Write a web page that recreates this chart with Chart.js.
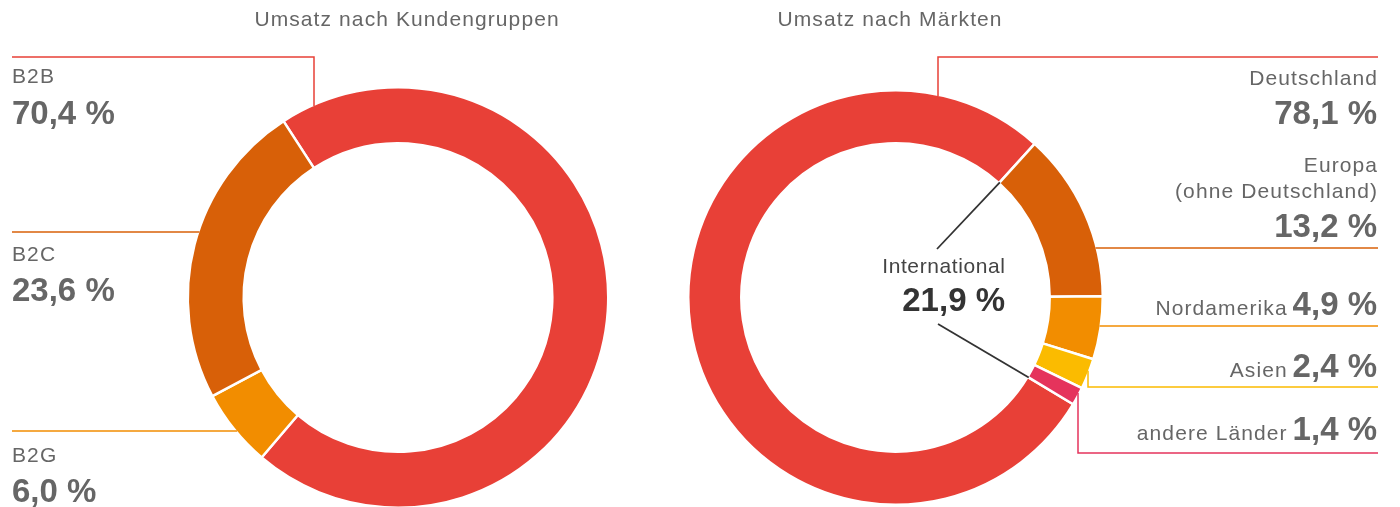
<!DOCTYPE html>
<html><head><meta charset="utf-8">
<script src="https://cdn.jsdelivr.net/npm/chart.js@4.4.1/dist/chart.umd.min.js"></script>
<style>
html,body{margin:0;padding:0;background:#fff;overflow:hidden}
#wrap{position:relative;width:1400px;height:507px}
canvas{position:absolute;left:0;top:0}
</style></head>
<body>
<div id="wrap"><canvas id="c1" width="1400" height="507"></canvas><canvas id="c2" width="1400" height="507"></canvas></div>
<script>
// ---- data ----
const customerTitle = 'Umsatz nach Kundengruppen';
const customerGroups = ['B2B', 'B2C', 'B2G'];
const customerShares = [70.4, 23.6, 6.0];
// clockwise order of the segments in the ring (indices into the arrays above)
const customerRingOrder = [0, 2, 1];

const marketTitle = 'Umsatz nach Märkten';
const markets = ['Deutschland', ['Europa', '(ohne Deutschland)'], 'Nordamerika', 'Asien', 'andere Länder'];
const marketShares = [78.1, 13.2, 4.9, 2.4, 1.4];
const internationalLabel = 'International';

// ---- styles ----
const customerColors = ['#E84037', '#D86008', '#F28D00'];
const marketColors = ['#E84037', '#D86008', '#F28D00', '#FBBB00', '#E5335C'];
const FONT = '"Liberation Sans", Arial, Helvetica, sans-serif';
const REG = '21px ' + FONT;
const BOLD = 'bold 33px ' + FONT;
const GREY = '#666666';
const SPACING = 1.1;
const BORDER = 2.5;

const fmt = v => v.toFixed(1).replace('.', ',') + ' %';

function txt(ctx, s, x, y, font, color, align, spacing) {
  ctx.save();
  ctx.font = font; ctx.fillStyle = color; ctx.textAlign = align; ctx.textBaseline = 'alphabetic';
  ctx.letterSpacing = (spacing || 0) + 'px';
  let dx = 0;
  if (spacing) { if (align === 'right') dx = spacing; else if (align === 'center') dx = spacing / 2; }
  ctx.fillText(s, x + dx, y);
  const w = ctx.measureText(s).width - (spacing || 0);
  ctx.restore();
  return w;
}
function geom(chart) {
  const arc = chart.getDatasetMeta(0).data[0];
  const p = arc.getProps(['x', 'y', 'outerRadius', 'innerRadius'], true);
  return {cx: p.x, cy: p.y, R: p.outerRadius - BORDER / 2, r: p.innerRadius + BORDER / 2};
}
function line(ctx, pts, color, w) {
  ctx.save(); ctx.strokeStyle = color; ctx.lineWidth = w || 1.5; ctx.lineCap = 'butt'; ctx.lineJoin = 'miter';
  ctx.beginPath(); ctx.moveTo(pts[0][0], pts[0][1]);
  for (let i = 1; i < pts.length; i++) ctx.lineTo(pts[i][0], pts[i][1]);
  ctx.stroke(); ctx.restore();
}

// ---- label layout (positions) ----
const leftLayout = {
  title: {x: 406.5, y: 26},
  items: [
    {lineY: 57, x0: 12, elbowX: 314, labelY: 83, valueY: 124},
    {lineY: 232, x0: 12, labelY: 261, valueY: 301},
    {lineY: 431, x0: 12, labelY: 462, valueY: 502}
  ]
};
const rightLayout = {
  title: {x: 889.5, y: 26},
  textRight: 1377, lineEnd: 1378,
  items: [
    {mode: 'stack', lineY: 57, elbowX: 938, elbowUp: true, labelY: [85], valueY: 124},
    {mode: 'stack', lineY: 248, labelY: [172, 198], valueY: 237},
    {mode: 'inline', lineY: 326, y: 315},
    {mode: 'inline', lineY: 387, elbowX: 1088, y: 377},
    {mode: 'inline', lineY: 453, elbowX: 1078, y: 440}
  ],
  intl: {x: 1005, labelY: 273, valueY: 311, up: [937, 249], down: [938, 324]}
};

const leftPlugin = {
  id: 'leftLabels',
  afterDraw(chart) {
    const ctx = chart.ctx;
    const g = geom(chart);
    txt(ctx, customerTitle, leftLayout.title.x, leftLayout.title.y, REG, GREY, 'center', SPACING);
    customerGroups.forEach((name, i) => {
      const L = leftLayout.items[i];
      const col = customerColors[i];
      if (L.elbowX !== undefined) {
        const yC = g.cy - Math.sqrt(g.R * g.R - (L.elbowX - g.cx) ** 2);
        line(ctx, [[L.x0, L.lineY], [L.elbowX, L.lineY], [L.elbowX, yC]], col);
      } else {
        const xC = g.cx - Math.sqrt(g.R * g.R - (L.lineY - g.cy) ** 2);
        line(ctx, [[L.x0, L.lineY], [xC, L.lineY]], col);
      }
      txt(ctx, name, L.x0, L.labelY, REG, GREY, 'left', SPACING);
      txt(ctx, fmt(customerShares[i]), L.x0, L.valueY, BOLD, GREY, 'left', 0);
    });
  }
};

const rightPlugin = {
  id: 'rightLabels',
  afterDraw(chart) {
    const ctx = chart.ctx;
    const g = geom(chart);
    const RL = rightLayout;
    txt(ctx, marketTitle, RL.title.x, RL.title.y, REG, GREY, 'center', SPACING);
    markets.forEach((name, i) => {
      const L = RL.items[i];
      const col = marketColors[i];
      if (L.elbowX !== undefined) {
        const h = Math.sqrt(g.R * g.R - (L.elbowX - g.cx) ** 2);
        const yC = L.elbowUp ? g.cy - h : g.cy + h;
        line(ctx, [[L.elbowX, yC], [L.elbowX, L.lineY], [RL.lineEnd, L.lineY]], col);
      } else {
        const xC = g.cx + Math.sqrt(g.R * g.R - (L.lineY - g.cy) ** 2);
        line(ctx, [[xC, L.lineY], [RL.lineEnd, L.lineY]], col);
      }
      const lines = Array.isArray(name) ? name : [name];
      if (L.mode === 'stack') {
        lines.forEach((s, k) => txt(ctx, s, RL.textRight, L.labelY[k], REG, GREY, 'right', SPACING));
        txt(ctx, fmt(marketShares[i]), RL.textRight, L.valueY, BOLD, GREY, 'right', 0);
      } else {
        const w = txt(ctx, fmt(marketShares[i]), RL.textRight, L.y, BOLD, GREY, 'right', 0);
        txt(ctx, lines.join(' '), RL.textRight - w - 6, L.y, REG, GREY, 'right', SPACING);
      }
    });
    // International = all markets except Deutschland
    const intl = marketShares.slice(1).reduce((a, b) => a + b, 0);
    const home = chart.getDatasetMeta(0).data[0].getProps(['startAngle', 'endAngle'], true);
    const pEnd = [g.cx + g.r * Math.cos(home.endAngle), g.cy + g.r * Math.sin(home.endAngle)];
    const pStart = [g.cx + g.r * Math.cos(home.startAngle), g.cy + g.r * Math.sin(home.startAngle)];
    line(ctx, [RL.intl.up, pEnd], '#333333', 1.8);
    line(ctx, [RL.intl.down, pStart], '#333333', 1.8);
    txt(ctx, internationalLabel, RL.intl.x, RL.intl.labelY, REG, '#444444', 'right', 0.6);
    txt(ctx, fmt(intl), RL.intl.x, RL.intl.valueY, BOLD, '#333333', 'right', 0);
  }
};

const common = (padding, radius, cutout, rotation) => ({
  responsive: false,
  animation: false,
  events: [],
  devicePixelRatio: 1,
  rotation: rotation,
  cutout: cutout,
  radius: radius,
  layout: {padding: padding},
  plugins: {legend: {display: false}, tooltip: {enabled: false}, title: {display: false}}
});

new Chart(document.getElementById('c1'), {
  type: 'doughnut',
  data: {
    labels: customerRingOrder.map(i => customerGroups[i]),
    datasets: [{
      data: customerRingOrder.map(i => customerShares[i]),
      backgroundColor: customerRingOrder.map(i => customerColors[i]),
      borderColor: '#ffffff', borderWidth: BORDER
    }]
  },
  options: common({left: 188, right: 792, top: 88, bottom: 0}, 210.25, '73.4%', -33),
  plugins: [leftPlugin]
});

new Chart(document.getElementById('c2'), {
  type: 'doughnut',
  data: {labels: markets, datasets: [{data: marketShares, backgroundColor: marketColors, borderColor: '#ffffff', borderWidth: BORDER}]},
  options: common({left: 689, right: 298, top: 91, bottom: 3}, 207.25, '74.4%', 121),
  plugins: [rightPlugin]
});
</script>
</body></html>
